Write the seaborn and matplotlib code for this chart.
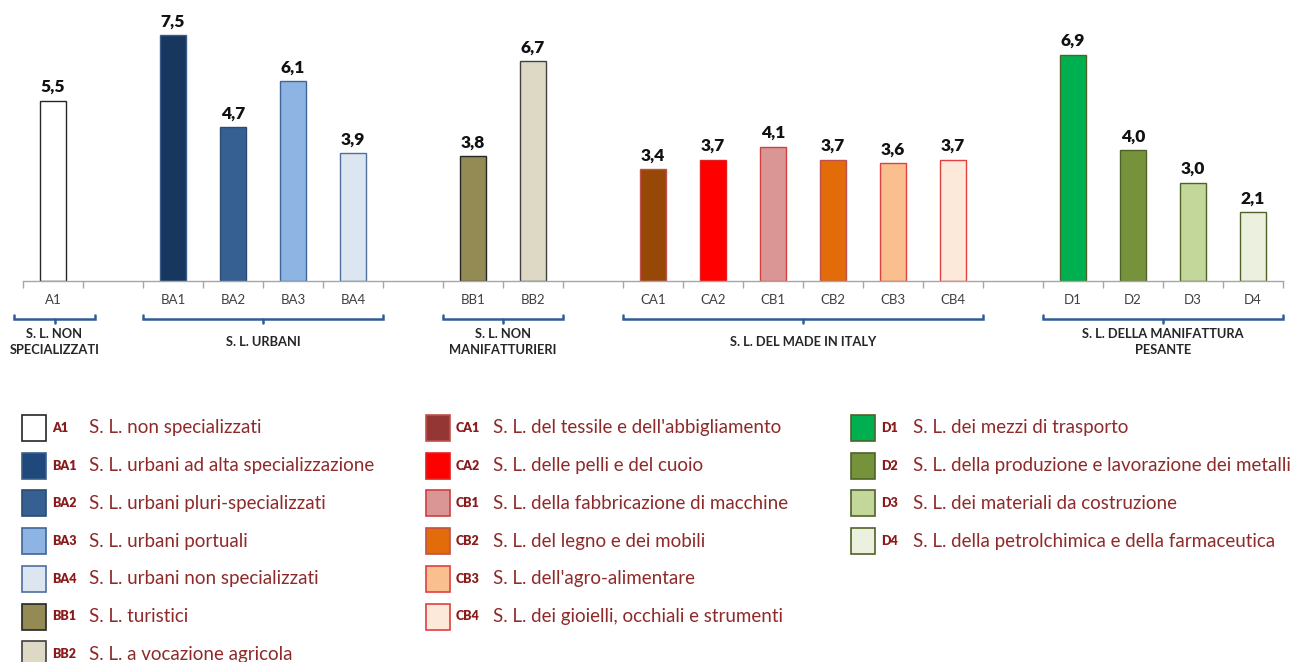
import matplotlib
matplotlib.use("Agg")
import matplotlib.pyplot as plt
from matplotlib.patches import Rectangle
from matplotlib.transforms import blended_transform_factory
import seaborn as sns
import pandas as pd

# ---- data -----------------------------------------------------------------
codes = ["A1", "BA1", "BA2", "BA3", "BA4", "BB1", "BB2",
         "CA1", "CA2", "CB1", "CB2", "CB3", "CB4",
         "D1", "D2", "D3", "D4"]
values = [5.5, 7.5, 4.7, 6.1, 3.9, 3.8, 6.7,
          3.4, 3.7, 4.1, 3.7, 3.6, 3.7,
          6.9, 4.0, 3.0, 2.1]
descriptions = [
    "S. L. non specializzati",
    "S. L. urbani ad alta specializzazione",
    "S. L. urbani pluri-specializzati",
    "S. L. urbani portuali",
    "S. L. urbani non specializzati",
    "S. L. turistici",
    "S. L. a vocazione agricola",
    "S. L. del tessile e dell'abbigliamento",
    "S. L. delle pelli e del cuoio",
    "S. L. della fabbricazione di macchine",
    "S. L. del legno e dei mobili",
    "S. L. dell'agro-alimentare",
    "S. L. dei gioielli, occhiali e strumenti",
    "S. L. dei mezzi di trasporto",
    "S. L. della produzione e lavorazione dei metalli",
    "S. L. dei materiali da costruzione",
    "S. L. della petrolchimica e della farmaceutica",
]
bar_colors = ["#FFFFFF", "#17375E", "#366092", "#8DB4E2", "#DCE6F1",
              "#948A54", "#DDD9C4",
              "#974706", "#FF0000", "#DA9694", "#E26B0A", "#FABF8F", "#FDE9D9",
              "#00B050", "#76933C", "#C4D79B", "#EBF1DE"]
legend_colors = ["#FFFFFF", "#1F497D", "#366092", "#8DB4E2", "#DCE6F1",
                 "#948A54", "#DDD9C4",
                 "#943634", "#FF0000", "#DA9694", "#E26B0A", "#FABF8F", "#FDE9D9",
                 "#00B050", "#76933C", "#C4D79B", "#EBF1DE"]
edge_colors = ["#262626", "#385D8A", "#2B4C75", "#3F6597", "#4F6E9E",
               "#262626", "#404040",
               "#C0504D", "#E02020", "#D04040", "#C0504D", "#E04040", "#E04040",
               "#4F6228", "#4F6228", "#4F6228", "#4F6228"]

group_names = ["S. L. NON\nSPECIALIZZATI", "S. L. URBANI",
               "S. L. NON\nMANIFATTURIERI", "S. L. DEL MADE IN ITALY",
               "S. L. DELLA MANIFATTURA\nPESANTE"]
group_members = [["A1"], ["BA1", "BA2", "BA3", "BA4"], ["BB1", "BB2"],
                 ["CA1", "CA2", "CB1", "CB2", "CB3", "CB4"],
                 ["D1", "D2", "D3", "D4"]]

# ---- category order with one empty slot between groups ----------------------
order = []
for gi, members in enumerate(group_members):
    if gi > 0:
        order.append(f"_gap{gi}")
    order.extend(members)

W, H = 1298, 662
fig = plt.figure(figsize=(W / 100, H / 100), dpi=100)
sns.set_style("white")
plt.rcParams["font.family"] = ["Lato", "DejaVu Sans"]

base_px = 281
ymax = 8.5
ax = fig.add_axes([23 / W, 1 - base_px / H, 1260 / W, ymax * 32.8 / H])

df = pd.DataFrame({"code": codes, "value": values})
sns.barplot(data=df, x="code", y="value", hue="code", order=order,
            hue_order=codes, palette=bar_colors, width=0.42, saturation=1,
            legend=False, ax=ax)

edge_of = dict(zip(codes, edge_colors))
for patch in ax.patches:
    idx = int(round(patch.get_x() + patch.get_width() / 2))
    patch.set_edgecolor(edge_of.get(order[idx], "#404040"))
    patch.set_linewidth(1.0)

for container in ax.containers:
    ax.bar_label(container,
                 labels=[f"{v:.1f}".replace(".", ",") for v in container.datavalues],
                 padding=4, fontsize=12.5, fontweight="heavy", color="#111111")

ax.set_xlim(-0.5, len(order) - 0.5)
ax.set_ylim(0, ymax)
ax.set_xticks(range(len(order)))
ax.set_xticklabels(["" if c.startswith("_gap") else c for c in order],
                   fontsize=9.5, color="#404040")
ax.set_xticks([i - 0.5 for i in range(len(order) + 1)], minor=True)
ax.tick_params(axis="x", which="major", length=0, pad=9)
ax.tick_params(axis="x", which="minor", length=5, width=1, color="#A6A6A6",
               direction="out", bottom=True)
ax.set_xlabel("")
ax.set_ylabel("")
ax.set_yticks([])
for side in ["top", "right", "left"]:
    ax.spines[side].set_visible(False)
ax.spines["bottom"].set_color("#A6A6A6")
ax.spines["bottom"].set_linewidth(1.0)

# ---- group braces and labels -------------------------------------------------
trans = blended_transform_factory(ax.transData, fig.transFigure)
brace_y = 1 - 319 / H
hook = 3.5 / H
label_y = 1 - 342 / H
for name, members in zip(group_names, group_members):
    x0 = order.index(members[0]) - 0.5
    x1 = order.index(members[-1]) + 0.5
    if len(members) == 1:
        x0 -= 0.15
        x1 += 0.2
    xc = (x0 + x1) / 2
    ax.plot([x0, x0, x1, x1], [brace_y + hook, brace_y, brace_y, brace_y + hook],
            color="#2E5C9A", lw=1.8, transform=trans, clip_on=False,
            solid_joinstyle="miter")
    ax.plot([xc, xc], [brace_y, brace_y - hook], color="#2E5C9A", lw=1.8,
            transform=trans, clip_on=False)
    ax.text(xc, label_y, name, transform=trans, ha="center", va="center",
            fontsize=9.3, fontweight="bold", color="#262626", linespacing=1.35,
            multialignment="center")

# ---- legend -----------------------------------------------------------------
col_of = {"A": 0, "B": 0, "C": 1, "D": 2}
col_x = [22, 426, 851]
text_dx = [67, 67, 62]
row_y0, row_step = 428, 37.7
rows_used = [0, 0, 0]
for code, desc, color, edge in zip(codes, descriptions, legend_colors, edge_colors):
    col = col_of[code[0]]
    r = rows_used[col]
    rows_used[col] += 1
    yc = row_y0 + r * row_step
    x = col_x[col]
    fig.add_artist(Rectangle((x / W, 1 - (yc + 13) / H), 24 / W, 26 / H,
                             transform=fig.transFigure, facecolor=color,
                             edgecolor=edge, linewidth=1.2))
    fig.text((x + 30) / W, 1 - yc / H, code, ha="left", va="center",
             fontsize=9, fontweight="heavy", color="#8B1A1A")
    fig.text((x + text_dx[col]) / W, 1 - yc / H, desc, ha="left", va="center",
             fontsize=13.5, color="#8E2A2A")

fig.savefig("out.png", dpi=100, facecolor="white")
